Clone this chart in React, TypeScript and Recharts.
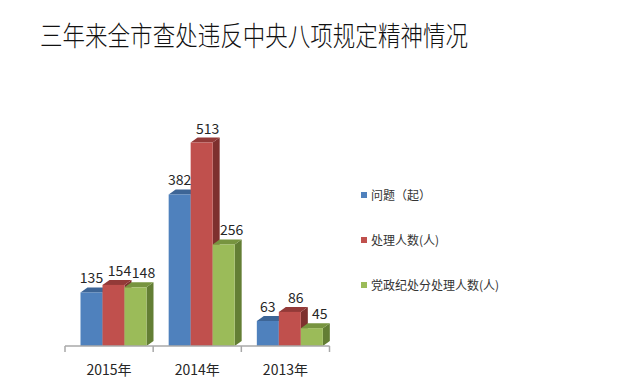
import React from 'react';
import { BarChart, Bar, XAxis, YAxis, Legend } from 'recharts';

const title = '三年来全市查处违反中央八项规定精神情况';
const categories = ['2015年', '2014年', '2013年'];
const issues = [135, 382, 63];
const handled = [154, 513, 86];
const disciplined = [148, 256, 45];
const seriesNames = ['问题（起）', '处理人数(人)', '党政纪处分处理人数(人)'];
const seriesColors = ['#4F81BD', '#C0504D', '#9BBB59'];

const data = categories.map((name, i) => ({
  name,
  issues: issues[i],
  handled: handled[i],
  disciplined: disciplined[i],
}));

const W = 626;
const H = 388;
const LEFT = 65;
const RIGHT_EDGE = 329.5;
const BAND_HALF = (RIGHT_EDGE - LEFT) / categories.length / 2;
const SHIFT = 4.5;
const DX = 7;
const DY = 5;
const FONT = '"Noto Sans CJK SC", "Noto Sans", sans-serif';

const faces: Record<string, { front: string; side: string; top: string }> = {
  '#4F81BD': { front: '#4F81BD', side: '#3A6190', top: '#3D6596' },
  '#C0504D': { front: '#C0504D', side: '#7E302E', top: '#933A38' },
  '#9BBB59': { front: '#9BBB59', side: '#637E34', top: '#77943F' },
};

const Bar3D = (props: any) => {
  const { x, y, width, height, fill } = props;
  if (width == null || height == null) return null;
  const f = faces[fill];
  const x0 = x + SHIFT;
  const x1 = x0 + width;
  const yb = y + height;
  return (
    <g>
      <polygon points={`${x1},${y} ${x1 + DX},${y - DY} ${x1 + DX},${yb - DY} ${x1},${yb}`} fill={f.side} />
      <polygon points={`${x0},${y} ${x0 + DX},${y - DY} ${x1 + DX},${y - DY} ${x1},${y}`} fill={f.top} />
      <rect x={x0} y={y} width={width} height={height} fill={f.front} />
    </g>
  );
};

const makeLabel = (dx: number) => (props: any) => {
  const { x, y, width, value } = props;
  return (
    <text
      x={x + width / 2 + SHIFT + dx}
      y={y - 9}
      textAnchor="middle"
      fontSize={14}
      fontFamily={FONT}
      fill="#262626"
    >
      {value}
    </text>
  );
};

const Tick = (props: any) => {
  const { x, y, payload, index } = props;
  const last = index === categories.length - 1;
  return (
    <g>
      <line x1={x - BAND_HALF} y1={y} x2={x - BAND_HALF} y2={y + 6} stroke="#A8A8A8" strokeWidth={1.5} />
      {last && (
        <line x1={x + BAND_HALF} y1={y} x2={x + BAND_HALF} y2={y + 6} stroke="#A8A8A8" strokeWidth={1.5} />
      )}
      <text x={x} y={y + 29} textAnchor="middle" fontSize={14} fontFamily={FONT} fill="#262626">
        {payload.value}
      </text>
    </g>
  );
};

const LegendContent = () => {
  return (
    <div style={{ fontFamily: FONT, fontSize: 12, color: '#333' }}>
      {seriesNames.map((name, i) => (
        <div key={i} style={{ height: 45, display: 'flex', alignItems: 'center' }}>
          <span style={{ width: 6, height: 6, background: seriesColors[i], display: 'inline-block', marginRight: 4 }} />
          <span>{name}</span>
        </div>
      ))}
    </div>
  );
};

export default function App() {
  return (
    <div style={{ position: 'absolute', left: 0, top: 0, width: W, height: H, background: '#fff' }}>
      <svg width={W} height={60} style={{ position: 'absolute', left: 0, top: 0 }}>
        <text
          x={40}
          y={46}
          fontSize={27}
          fontWeight={300}
          fontFamily={FONT}
          fill="#111"
          textLength={428}
          lengthAdjust="spacingAndGlyphs"
        >
          {title}
        </text>
      </svg>
      <div style={{ position: 'absolute', left: 0, top: 0 }}>
        <BarChart
          width={W}
          height={H}
          data={data}
          margin={{ top: 108, right: W - RIGHT_EDGE, bottom: 0, left: LEFT }}
          barCategoryGap={11}
          barGap={0}
        >
          <XAxis
            dataKey="name"
            height={42}
            axisLine={{ stroke: '#A8A8A8', strokeWidth: 1.5 }}
            tickLine={false}
            tickSize={0}
            tickMargin={0}
            interval={0}
            tick={<Tick />}
          />
          <YAxis hide domain={[0, 600]} />
          <Legend
            layout="vertical"
            align="center"
            verticalAlign="middle"
            content={<LegendContent />}
            wrapperStyle={{ left: 361, top: 172, width: 240, height: 135 }}
          />
          <Bar dataKey="issues" name={seriesNames[0]} fill={seriesColors[0]} shape={<Bar3D />} label={makeLabel(0)} isAnimationActive={false} />
          <Bar dataKey="handled" name={seriesNames[1]} fill={seriesColors[1]} shape={<Bar3D />} label={makeLabel(6)} isAnimationActive={false} />
          <Bar dataKey="disciplined" name={seriesNames[2]} fill={seriesColors[2]} shape={<Bar3D />} label={makeLabel(8)} isAnimationActive={false} />
        </BarChart>
      </div>
    </div>
  );
}
